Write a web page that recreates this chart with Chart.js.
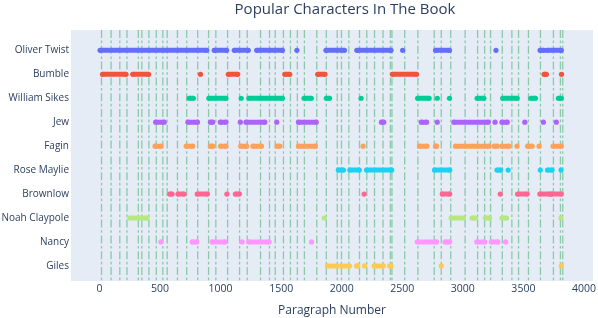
<!DOCTYPE html>
<html>
<head>
<meta charset="utf-8">
<script src="https://cdn.jsdelivr.net/npm/chart.js@4"></script>
<style>
  html, body { margin: 0; padding: 0; background: #fff; }
  #wrap { width: 598px; height: 318px; position: relative; }
</style>
</head>
<body>
<div id="wrap"><canvas id="chart"></canvas></div>
<script>
  "use strict";
  const TITLE = "Popular Characters In The Book";
  const X_TITLE = "Paragraph Number";

  const characters = [
    "Oliver Twist", "Bumble", "William Sikes", "Jew", "Fagin",
    "Rose Maylie", "Brownlow", "Noah Claypole", "Nancy", "Giles",
  ];
  const colors = [
    "#636efa", "#ef553b", "#00cc96", "#ab63fa", "#ffa15a",
    "#19d3f3", "#ff6692", "#b6e880", "#ff97ff", "#fecb52",
  ];

  // runs of mentions as [first, last] paragraph; single mentions as [p]
  const oliverTwist = [[5, 885], [947, 1050], [1113, 1229], [1298, 1511], [1630],
    [1870, 2023], [2125, 2407], [2503], [2775, 2890], [3274], [3638, 3670], [3695, 3813]];
  const bumble = [[25, 219], [275, 406], [834], [1064, 1141], [1530, 1571],
    [1802, 1862], [2419, 2618], [3671, 3690], [3815]];
  const williamSikes = [[741, 776], [903, 1044], [1170], [1234, 1511], [1689, 1749],
    [1873, 1900], [2160], [2627, 2722], [2789], [2890], [3118, 3174], [3329, 3449],
    [3562, 3600], [3789, 3813]];
  const jew = [[464, 535], [730, 809], [916, 935], [998, 1044], [1163], [1210, 1365],
    [1464], [1643, 1790], [2328, 2347], [2657, 2701], [2789], [2926, 3210], [3266],
    [3323, 3367], [3512], [3665], [3772]];
  const fagin = [[459, 507], [716, 770], [916, 935], [1000, 1044], [1166, 1215],
    [1267, 1338], [1467, 1489], [1643, 1782], [2177], [2643, 2703], [2775, 2783],
    [2939, 3215], [3260, 3285], [3323, 3380], [3447], [3535, 3572], [3630], [3745, 3813]];
  const roseMaylie = [[1972, 2015], [2067, 2146], [2205, 2413], [2766, 2892],
    [3282, 3312], [3375], [3640], [3699, 3737], [3811]];
  const brownlow = [[580, 600], [648, 699], [807, 891], [1052], [1122, 1155], [2185],
    [2830, 2892], [3309], [3452, 3531], [3636, 3720], [3730, 3813]];
  const noahClaypole = [[250, 392], [1856], [2904, 3005], [3076, 3106], [3186, 3221],
    [3323, 3361], [3810]];
  const nancy = [[507], [766, 803], [930, 1036], [1178], [1232, 1401], [1751],
    [2624, 2783], [2854, 2892], [3115, 3180], [3235, 3290], [3354]];
  const giles = [[1882, 2064], [2123, 2133], [2189], [2268, 2344], [2396, 2407],
    [2822], [3813]];

  const mentions = [oliverTwist, bumble, williamSikes, jew, fagin,
    roseMaylie, brownlow, noahClaypole, nancy, giles];

  // chapter boundaries (paragraph numbers)
  const chapterBreaks = [17, 96, 168, 227, 321, 350, 408, 469, 523, 559, 644, 720,
    811, 901, 961, 1058, 1157, 1220, 1330, 1404, 1451, 1519, 1577, 1634, 1692, 1794,
    1873, 1963, 1998, 2059, 2147, 2207, 2271, 2341, 2402, 2415, 2520, 2629, 2764,
    2822, 2900, 3019, 3122, 3180, 3229, 3326, 3405, 3460, 3542, 3641, 3748, 3806, 3825];

  const xTicks = [0, 500, 1000, 1500, 2000, 2500, 3000, 3500, 4000];
  const X_MIN = -235, X_MAX = 4075;
  const Y_MIN = -0.85, Y_MAX = 9.63;
  const FONT = "'Open Sans', 'DejaVu Sans', sans-serif";
  const INK = "#2a3f5f";

  function runsToPoints(runs, idx) {
    const pts = [];
    runs.forEach((r) => {
      r.forEach((x) => pts.push({ x: x, y: idx }));
      pts.push({ x: r[r.length - 1], y: null });
    });
    return pts;
  }

  const breakPoints = [];
  chapterBreaks.forEach((x) => {
    breakPoints.push({ x: x, y: Y_MIN }, { x: x, y: Y_MAX }, { x: x, y: null });
  });

  const datasets = characters.map((name, i) => ({
    label: name,
    data: runsToPoints(mentions[i], i),
    borderColor: colors[i], backgroundColor: colors[i],
    borderWidth: 5, pointRadius: 2.6, pointBorderWidth: 0, pointHoverRadius: 2.6,
    spanGaps: false, order: 1,
  }));
  datasets.push({
    label: "chapters", data: breakPoints,
    borderColor: "rgba(30,160,80,0.45)", borderWidth: 1.3, borderDash: [8, 2.6, 2.6, 2.6],
    pointRadius: 0, spanGaps: false, order: 10,
  });

  const plotBg = {
    id: "plotBg",
    beforeDraw(chart) {
      const a = chart.chartArea, ctx = chart.ctx;
      ctx.save();
      ctx.fillStyle = "#e5ecf6";
      ctx.fillRect(a.left, a.top, a.right - a.left, a.bottom - a.top);
      ctx.restore();
    },
  };
  const plotTitle = {
    id: "plotTitle",
    afterDraw(chart) {
      const ctx = chart.ctx;
      ctx.save();
      ctx.font = "15px " + FONT;
      ctx.fillStyle = INK;
      ctx.textAlign = "center";
      ctx.textBaseline = "middle";
      ctx.fillText(TITLE, 345, 10);
      ctx.restore();
    },
  };

  new Chart(document.getElementById("chart").getContext("2d"), {
    type: "line",
    data: { datasets: datasets },
    plugins: [plotBg, plotTitle],
    options: {
      responsive: true, maintainAspectRatio: false, animation: false,
      layout: { padding: { top: 30, right: 3, left: 0, bottom: 0 } },
      scales: {
        x: {
          type: "linear", min: X_MIN, max: X_MAX,
          grid: { display: false, drawTicks: false }, border: { display: false },
          afterBuildTicks: (s) => { s.ticks = xTicks.map((v) => ({ value: v })); },
          afterFit: (s) => { s.height = 37; },
          ticks: { color: INK, font: { family: FONT, size: 10.5 }, padding: 2, maxRotation: 0,
                   callback: (v) => String(v) },
          title: { display: true, text: X_TITLE, color: INK, font: { family: FONT, size: 12 }, padding: { top: 4, bottom: 0 } },
        },
        y: {
          type: "linear", min: Y_MIN, max: Y_MAX, reverse: true,
          grid: { display: false, drawTicks: false }, border: { display: false },
          afterBuildTicks: (s) => { s.ticks = characters.map((_, i) => ({ value: i })); },
          afterFit: (s) => { s.width = 71; },
          ticks: { color: INK, font: { family: FONT, size: 10 }, padding: 2,
                   callback: (v) => characters[v] },
        },
      },
      plugins: { legend: { display: false }, tooltip: { enabled: false } },
    },
  });
</script>
</body>
</html>
